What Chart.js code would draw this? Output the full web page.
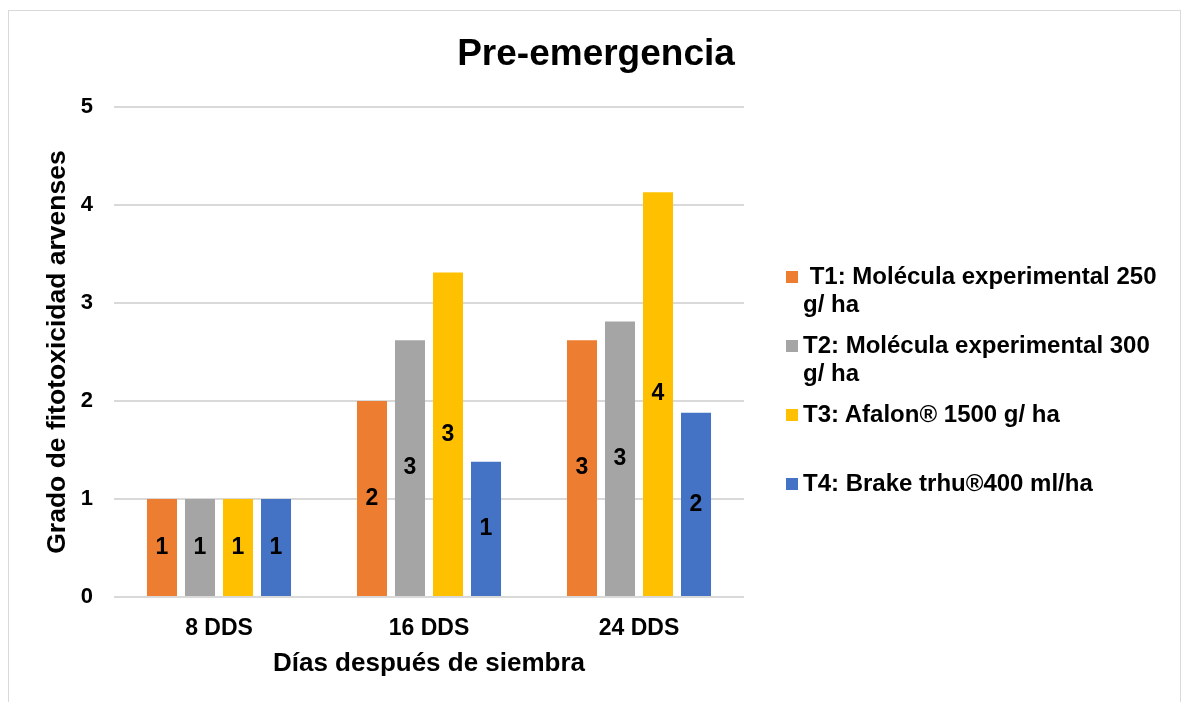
<!DOCTYPE html>
<html lang="es">
<head>
<meta charset="utf-8">
<title>Pre-emergencia</title>
<script src="https://cdn.jsdelivr.net/npm/chart.js@4.4.1/dist/chart.umd.min.js"></script>
<style>
    body {
        margin: 0;
        background: #fff;
        overflow: hidden;
        font-family: "Liberation Sans", Arial, sans-serif;
    }
    #wrap {
        position: relative;
        width: 1182px;
        height: 702px;
    }
    #frame {
        position: absolute;
        left: 8px;
        top: 10px;
        width: 1171px;
        height: 720px;
        border: 1px solid #d9d9d9;
    }
    #chart {
        position: absolute;
        left: 0;
        top: 0;
    }
    #legend {
        position: absolute;
        left: 786px;
        top: 262px;
    }
    .legend-item {
        display: flex;
        height: 69px;
    }
    .legend-box {
        width: 12px;
        height: 12px;
        margin-top: 9px;
        margin-right: 5px;
        flex: none;
    }
    .legend-text {
        width: 370px;
        font-weight: bold;
        font-size: 24px;
        line-height: 27.7px;
        color: #000;
        white-space: pre-wrap;
    }
</style>
</head>
<body>
<div id="wrap">
    <div id="frame"></div>
    <canvas id="chart" width="1182" height="702"></canvas>
    <div id="legend"></div>
</div>

<script>
const categories = ["8 DDS", "16 DDS", "24 DDS"];

const seriesNames = [
    " T1: Molécula experimental 250 g/ ha",
    "T2: Molécula experimental 300 g/ ha",
    "T3: Afalon® 1500 g/ ha",
    "T4: Brake trhu®400 ml/ha"
];

const t1Values = [1.0, 2.0, 2.62];
const t2Values = [1.0, 2.62, 2.81];
const t3Values = [1.0, 3.31, 4.13];
const t4Values = [1.0, 1.38, 1.88];

const yTicks = [0, 1, 2, 3, 4, 5];

const seriesColors = [
    "#ED7D31", // orange
    "#A5A5A5", // gray
    "#FFC000", // gold
    "#4472C4"  // blue
];

const fontFamily = '"Liberation Sans", Arial, sans-serif';

// value labels in the middle of each bar (rounded, like the original)
const barLabels = {
    id: "barLabels",
    afterDatasetsDraw(chart) {
        const ctx = chart.ctx;
        ctx.save();
        ctx.font = "bold 23px " + fontFamily;
        ctx.fillStyle = "#000";
        ctx.textAlign = "center";
        ctx.textBaseline = "middle";
        chart.data.datasets.forEach((ds, i) => {
            const meta = chart.getDatasetMeta(i);
            meta.data.forEach((bar, j) => {
                const y = (bar.y + bar.base) / 2;
                ctx.fillText(String(Math.round(ds.data[j])), bar.x, y);
            });
        });
        ctx.restore();
    }
};

// legend with wrapping text, built from the datasets
const htmlLegend = {
    id: "htmlLegend",
    afterUpdate(chart) {
        const box = document.getElementById("legend");
        box.innerHTML = "";
        chart.data.datasets.forEach(ds => {
            const item = document.createElement("div");
            item.className = "legend-item";
            const mark = document.createElement("div");
            mark.className = "legend-box";
            mark.style.background = ds.backgroundColor;
            const txt = document.createElement("div");
            txt.className = "legend-text";
            txt.textContent = ds.label;
            item.appendChild(mark);
            item.appendChild(txt);
            box.appendChild(item);
        });
    }
};

const allValues = [t1Values, t2Values, t3Values, t4Values];

const ctx = document.getElementById("chart").getContext("2d");
new Chart(ctx, {
    type: "bar",
    data: {
        labels: categories,
        datasets: allValues.map((vals, i) => ({
            label: seriesNames[i],
            data: vals,
            backgroundColor: seriesColors[i],
            borderWidth: 0,
            categoryPercentage: 0.724,
            barPercentage: 0.79
        }))
    },
    options: {
        responsive: false,
        animation: false,
        layout: {
            padding: { left: 10, right: 0, top: 0, bottom: 15 }
        },
        plugins: {
            legend: { display: false },
            tooltip: { enabled: false },
            title: {
                display: true,
                text: "Pre-emergencia",
                color: "#000",
                font: { family: fontFamily, size: 37, weight: "bold" },
                padding: { top: 32.8, bottom: 29.8 }
            }
        },
        scales: {
            x: {
                grid: { display: false },
                border: { display: false },
                ticks: {
                    color: "#000",
                    padding: 10,
                    font: { family: fontFamily, size: 23, weight: "bold" }
                },
                title: {
                    display: true,
                    text: "Días después de siembra",
                    color: "#000",
                    font: { family: fontFamily, size: 26, weight: "bold" },
                    padding: { top: 0, bottom: 7.4 }
                },
                afterFit: scale => { scale.height = 90; }
            },
            y: {
                min: yTicks[0],
                max: yTicks[yTicks.length - 1],
                afterBuildTicks: scale => {
                    scale.ticks = yTicks.map(v => ({ value: v }));
                },
                grid: {
                    color: "#d9d9d9",
                    lineWidth: 2,
                    drawTicks: false
                },
                border: { display: false },
                ticks: {
                    color: "#000",
                    padding: 21,
                    font: { family: fontFamily, size: 22, weight: "bold" }
                },
                title: {
                    display: true,
                    text: "Grado de fitotoxicidad arvenses",
                    color: "#000",
                    font: { family: fontFamily, size: 26.5, weight: "bold" },
                    padding: { top: 32, bottom: 0 }
                },
                afterFit: scale => { scale.width = 104; }
            },
            // empty axis that keeps the right side free for the legend
            yRight: {
                position: "right",
                display: true,
                grid: { display: false },
                border: { display: false },
                ticks: { display: false },
                afterFit: scale => { scale.width = 438; }
            }
        }
    },
    plugins: [barLabels, htmlLegend]
});
</script>
</body>
</html>
